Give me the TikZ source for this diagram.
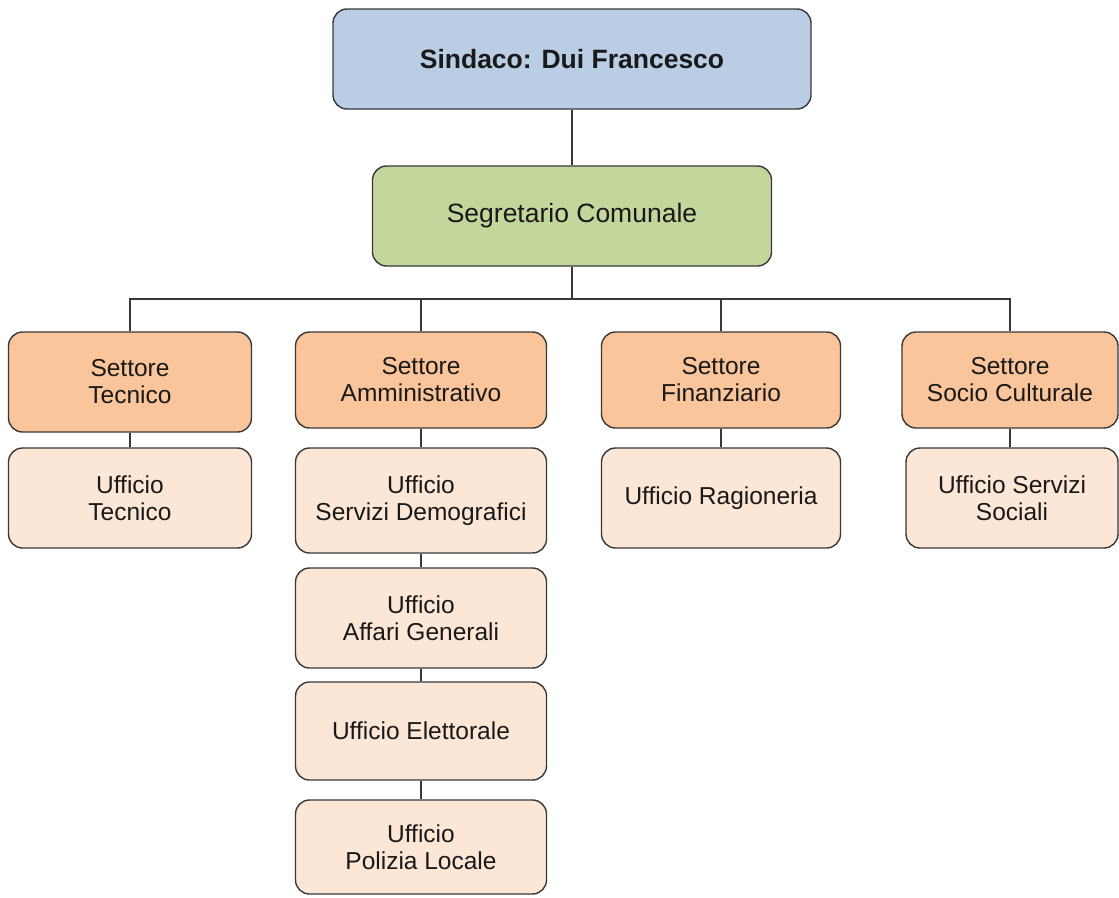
\documentclass[tikz,border=0pt]{standalone}
\usepackage{fontspec}
\setmainfont{Liberation Sans}
\definecolor{blueC}{HTML}{B9CDE5}
\definecolor{greenC}{HTML}{C3D69B}
\definecolor{orangeC}{HTML}{FAC59A}
\definecolor{peachC}{HTML}{FCE6D6}
\definecolor{lineC}{HTML}{383838}
\begin{document}
\begin{tikzpicture}[x=1pt,y=-1pt,
  box/.style={draw=lineC,line width=1.4pt,rounded corners=14pt,align=center,
    inner sep=0pt,text=black!90,font=\fontsize{24.5}{27}\selectfont},
  sett/.style={box,fill=orangeC},
  uff/.style={box,fill=peachC},
  conn/.style={draw=lineC,line width=1.4pt}]
\useasboundingbox (0,0) rectangle (1119,897);
\node[box,fill=blueC,minimum width=478pt,minimum height=100pt,font=\bfseries\fontsize{26.5}{29}\selectfont] (sindaco) at (572,59) {Sindaco: Dui Francesco};
\node[box,fill=greenC,minimum width=399pt,minimum height=100pt,font=\fontsize{26.5}{29}\selectfont] (segr) at (572,216) {Segretario Comunale};
\coordinate (hub) at (572,299);
\node[sett,minimum width=243pt,minimum height=100pt] (stec) at (130,382) {Settore\\Tecnico};
\node[sett,minimum width=251pt,minimum height=96pt] (samm) at (421,380) {Settore\\Amministrativo};
\node[sett,minimum width=239pt,minimum height=96pt] (sfin) at (721,380) {Settore\\Finanziario};
\node[sett,minimum width=216pt,minimum height=96pt] (ssoc) at (1010,380) {Settore\\Socio Culturale};
\node[uff,minimum width=243pt,minimum height=100pt] (utec) at (130,498) {Ufficio\\Tecnico};
\node[uff,minimum width=251pt,minimum height=105pt] (udem) at (421,500.5) {Ufficio\\Servizi Demografici};
\node[uff,minimum width=251pt,minimum height=100pt] (uaff) at (421,618) {Ufficio\\Affari Generali};
\node[uff,minimum width=251pt,minimum height=98pt] (uele) at (421,731) {Ufficio Elettorale};
\node[uff,minimum width=251pt,minimum height=94pt] (upol) at (421,847) {Ufficio\\Polizia Locale};
\node[uff,minimum width=239pt,minimum height=100pt] (urag) at (721,498) {Ufficio Ragioneria};
\node[uff,minimum width=212pt,minimum height=100pt] (usoc) at (1012,498) {Ufficio Servizi\\Sociali};
\draw[conn] (sindaco.south) -- (segr.north);
\draw[conn] (segr.south) -- (hub);
\draw[conn] (stec.north) -- (stec.north |- hub) -- (ssoc.north |- hub) -- (ssoc.north);
\draw[conn] (samm.north) -- (samm.north |- hub);
\draw[conn] (sfin.north) -- (sfin.north |- hub);
\draw[conn] (stec.south) -- (utec.north);
\draw[conn] (samm.south) -- (udem.north);
\draw[conn] (udem.south) -- (uaff.north);
\draw[conn] (uaff.south) -- (uele.north);
\draw[conn] (uele.south) -- (upol.north);
\draw[conn] (sfin.south) -- (urag.north);
\draw[conn] (ssoc.south) -- (ssoc.south |- usoc.north);
\end{tikzpicture}
\end{document}
